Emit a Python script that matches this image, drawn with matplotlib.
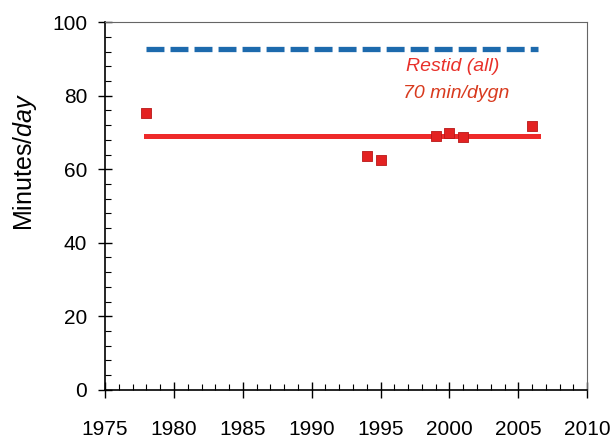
import matplotlib
matplotlib.use('Agg')
import matplotlib.pyplot as plt
from matplotlib.ticker import MultipleLocator

plt.rcParams['font.family'] = ['Liberation Sans', 'DejaVu Sans']
plt.rcParams['mathtext.fontset'] = 'custom'
plt.rcParams['mathtext.rm'] = 'Liberation Sans'
plt.rcParams['mathtext.it'] = 'Liberation Sans:italic'

years = [1978, 1994, 1995, 1999, 2000, 2001, 2006]
minutes = [75.3, 63.6, 62.5, 69.0, 69.8, 68.8, 71.7]
mean_span = [1978, 2006.4]
mean_value = 69.0
upper_value = 92.7

fig = plt.figure(figsize=(6.11, 4.43), dpi=100)
ax = fig.add_axes([0.172, 0.12, 0.789, 0.83])

ax.plot(mean_span, [upper_value, upper_value], color='#1d6aad', lw=3.8,
        dashes=(3.4, 1.15), solid_capstyle='butt', zorder=2)
ax.plot(mean_span, [mean_value, mean_value], color='#ee2a2a', lw=3.6, zorder=2)
ax.scatter(years, minutes, marker='s', s=50, color='#e32222', edgecolors='#b81818',
           linewidths=0.6, zorder=3)

ax.text(2000.25, 88.0, 'Restid (all)', color='#e8302a', style='italic', fontsize=14,
        ha='center', va='center')
ax.text(2000.5, 80.7, '70 min/dygn', color='#d83a1e', style='italic', fontsize=14,
        ha='center', va='center')

ax.set_xlim(1975, 2010)
ax.set_ylim(0, 100)
ax.xaxis.set_major_locator(MultipleLocator(5))
ax.xaxis.set_minor_locator(MultipleLocator(1))
ax.yaxis.set_major_locator(MultipleLocator(20))
ax.yaxis.set_minor_locator(MultipleLocator(4))

ax.tick_params(axis='x', which='major', direction='inout', length=12, width=1, labelsize=15, pad=16)
ax.tick_params(axis='x', which='minor', direction='in', length=4, width=0.8)
ax.tick_params(axis='y', which='major', direction='inout', length=10, width=1, labelsize=15, pad=8)
ax.tick_params(axis='y', which='minor', direction='in', length=4, width=0.8)

ylab = ax.set_ylabel('Minutes/$\\it{day}$', fontsize=18)
ylab.set_va('center')
ax.yaxis.set_label_coords(-0.166, 0.62)

for side in ['left', 'bottom']:
    ax.spines[side].set_linewidth(1.2)
for side in ['top', 'right']:
    ax.spines[side].set_linewidth(0.8)
    ax.spines[side].set_color('#666666')

fig.savefig('out.png', dpi=100)
